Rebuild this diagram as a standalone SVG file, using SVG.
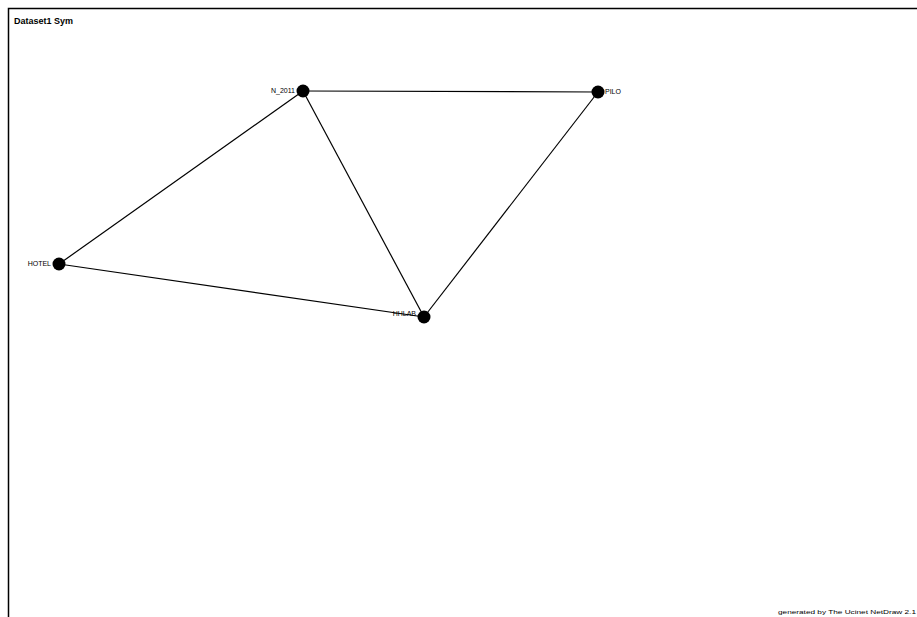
<svg xmlns="http://www.w3.org/2000/svg" width="917" height="617" viewBox="0 0 917 617">
<style>
.lbl{font-family:"Liberation Sans",Arial,sans-serif;font-size:7px;fill:#000}
.edge{stroke:#000;stroke-width:1.2;fill:none}
.node{fill:#000}
</style>
<rect width="917" height="617" fill="#fff"/>
<path d="M8.5 617 V8.5 H917" stroke="#000" stroke-width="1.5" fill="none"/>
<text x="14" y="24" style="font-family:'Liberation Sans',Arial,sans-serif;font-size:9px;font-weight:bold">Dataset1 Sym</text>
<g id="connectors">
<line class="edge" x1="303" y1="91" x2="598" y2="92"/>
<line class="edge" x1="303" y1="91" x2="59" y2="264"/>
<line class="edge" x1="303" y1="91" x2="424" y2="317"/>
<line class="edge" x1="598" y1="92" x2="424" y2="317"/>
<line class="edge" x1="59" y1="264" x2="424" y2="317"/>
</g>
<g id="n1"><circle class="node" cx="303" cy="91" r="6.5"/><text class="lbl" x="295" y="93" text-anchor="end">N_2011</text></g>
<g id="n2"><circle class="node" cx="598" cy="92" r="6.5"/><text class="lbl" x="605" y="94">PILO</text></g>
<g id="n3"><circle class="node" cx="59" cy="264" r="6.5"/><text class="lbl" x="51" y="266" text-anchor="end">HOTEL</text></g>
<g id="n4"><circle class="node" cx="424" cy="317" r="6.5"/><text class="lbl" x="416" y="316" text-anchor="end">HHLAB</text></g>
<text x="778" y="614" textLength="138" lengthAdjust="spacingAndGlyphs" style="font-family:'Liberation Sans',Arial,sans-serif;font-size:6px">generated by The Ucinet NetDraw 2.1</text>
</svg>
